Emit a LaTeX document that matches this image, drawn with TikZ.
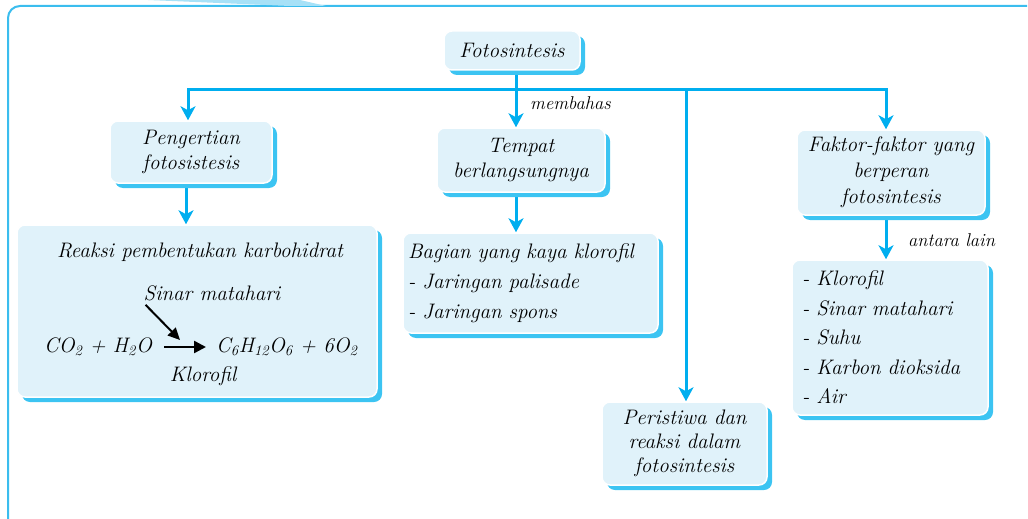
\documentclass[tikz,border=0pt]{standalone}
\usepackage{fontspec}
\usetikzlibrary{arrows.meta,shadows}
\definecolor{linec}{HTML}{00AEEF}
\definecolor{shadc}{HTML}{3CC4F2}
\definecolor{boxc}{HTML}{E0F2FA}
\definecolor{framec}{HTML}{3BBDEE}
\pgfdeclarelayer{bg}
\pgfsetlayers{bg,main}
\tikzset{
 box/.style={rounded corners=8pt, fill=boxc, draw=white, line width=1.5pt,
   general shadow={fill=shadc, shadow xshift=5pt, shadow yshift=-5pt},
   font=\itshape\fontsize{21}{25}\selectfont, align=center, inner sep=0pt},
 conn/.style={draw=linec, line width=3pt},
 arr/.style={conn, -{Stealth[length=14pt,width=15pt,inset=4pt]}},
 lbl/.style={font=\itshape\fontsize{18.5}{20}\selectfont, inner sep=0pt},
 txt/.style={font=\itshape\fontsize{21}{25}\selectfont, inner sep=0pt},
 blk/.style={draw=black, line width=2.5pt, -{Triangle[length=12pt,width=12pt]}}
}
\begin{document}
\begin{tikzpicture}[x=1pt,y=-1pt]
\useasboundingbox (0,0) rectangle (1028,519);
% frame
\draw[framec, line width=2pt, rounded corners=12pt] (8,519) -- (8,6) -- (1027,6);
\fill[framec!45] (148,0) -- (300,0) -- (326,6) -- (290,6) -- cycle;

% boxes
\node[box, minimum width=136pt, minimum height=39pt] (fot) at (512,50.5) {Fotosintesis};
\node[box, minimum width=162pt, minimum height=62pt] (peng) at (191,152) {Pengertian\\fotosistesis};
\node[box, minimum width=360pt, minimum height=172pt] (reak) at (197,311) {};
\node[box, minimum width=168pt, minimum height=64pt] (temp) at (521,160) {Tempat\\berlangsungnya};
\node[box, minimum width=255pt, minimum height=100pt, align=left, text width=245pt, inner xsep=5pt,
  font=\itshape\fontsize{21}{30}\selectfont] (bag) at (530.5,283)
  {Bagian yang kaya klorofil\\- Jaringan palisade\\- Jaringan spons};
\node[box, minimum width=165pt, minimum height=83pt, font=\itshape\fontsize{21}{24}\selectfont] (peri) at (684.5,443.5)
  {Peristiwa dan\\reaksi dalam\\fotosintesis};
\node[box, minimum width=188pt, minimum height=85pt, font=\itshape\fontsize{21}{26}\selectfont] (fak) at (891,172.5)
  {Faktor-faktor yang\\berperan\\fotosintesis};
\node[box, minimum width=196pt, minimum height=155pt, align=left, text width=176pt, inner xsep=10pt,
  font=\itshape\fontsize{21}{29.5}\selectfont] (lst) at (890,337.5)
  {- Klorofil\\- Sinar matahari\\- Suhu\\- Karbon dioksida\\- Air};

% reaction contents
\node[txt] (rt) at (200,252) {Reaksi pembentukan karbohidrat};
\node[txt] (sin) at (212,293) {Sinar matahari};
\node[txt, anchor=east] (lhs) at (152,347) {CO\textsubscript{2} + H\textsubscript{2}O};
\node[txt, anchor=west] (rhs) at (216,347) {C\textsubscript{6}H\textsubscript{12}O\textsubscript{6} + 6O\textsubscript{2}};
\node[txt] (klo) at (203,376) {Klorofil};
\draw[blk, shorten <=12pt, shorten >=10pt] (lhs.east) -- (rhs.west);
\coordinate (dt) at (180,340);
\draw[blk, line width=2pt, -{Triangle[length=12pt,width=11pt]}] ([xshift=2pt,yshift=-4pt]sin.south west) -- (dt);

% labels
\node[lbl, anchor=west] (mb) at (530,103) {membahas};
\node[lbl, anchor=west] (al) at (908,240) {antara lain};

% connectors
\coordinate (jm) at (516,89);
\coordinate (jl) at (188,89);
\coordinate (jr) at (886,89);
\coordinate (jp) at (686,89);
\begin{pgfonlayer}{bg}
\draw[conn] (fot.south -| jm) -- (jm);
\draw[conn, line cap=rect] (jl) -- (jr);
\draw[arr] (jl) -- (jl |- peng.north);
\draw[arr] (jm) -- (jm |- temp.north);
\draw[arr] (jp) -- (jp |- peri.north);
\draw[arr] (jr) -- (jr |- fak.north);
\draw[arr] ([xshift=-5pt]peng.south) -- ([xshift=-5pt]peng.south |- reak.north);
\draw[arr] (temp.south -| jm) -- (jm |- bag.north);
\draw[arr] (fak.south -| jr) -- (jr |- lst.north);
\end{pgfonlayer}
\end{tikzpicture}
\end{document}
